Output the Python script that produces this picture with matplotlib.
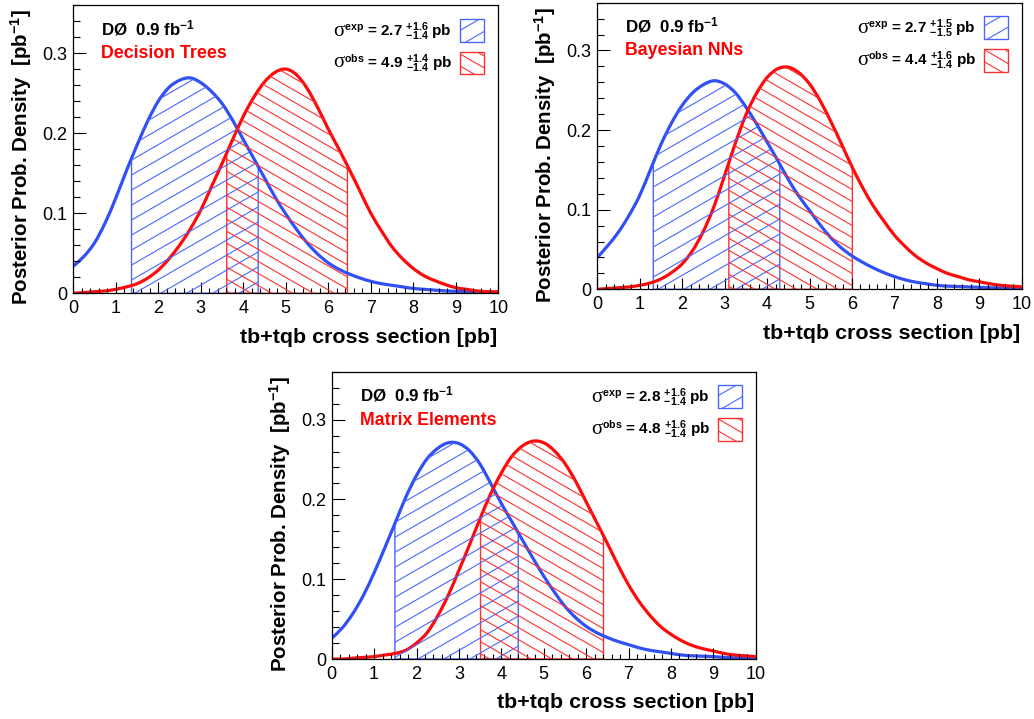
import numpy as np
import matplotlib
matplotlib.use('Agg')
import matplotlib.pyplot as plt
from matplotlib.patches import PathPatch, Rectangle
from matplotlib.path import Path
from matplotlib.collections import LineCollection
from matplotlib.ticker import MultipleLocator, FixedLocator, FixedFormatter

plt.rcParams['font.family'] = ['Liberation Sans', 'DejaVu Sans']
plt.rcParams['mathtext.default'] = 'regular'

# cross section grid [pb]
xs = np.arange(0, 10.001, 0.25)

# posterior densities (one value per 0.25 pb)
dt_exp = [0.034, 0.046, 0.063, 0.088, 0.119, 0.153, 0.185, 0.215, 0.240, 0.257,
          0.266, 0.269, 0.263, 0.252, 0.237, 0.216, 0.192, 0.168, 0.144, 0.120,
          0.099, 0.080, 0.063, 0.049, 0.038, 0.030, 0.024, 0.019, 0.015, 0.012,
          0.010, 0.008, 0.006, 0.005, 0.004, 0.003, 0.0025, 0.002, 0.0015, 0.001, 0.001]
dt_obs = [0.000, 0.001, 0.002, 0.003, 0.005, 0.008, 0.012, 0.019, 0.029, 0.043,
          0.060, 0.080, 0.104, 0.133, 0.162, 0.192, 0.221, 0.245, 0.264, 0.276,
          0.280, 0.273, 0.256, 0.232, 0.205, 0.180, 0.154, 0.127, 0.100, 0.078,
          0.058, 0.043, 0.031, 0.022, 0.016, 0.011, 0.007, 0.005, 0.003, 0.002, 0.002]
bnn_exp = [0.040, 0.055, 0.072, 0.093, 0.118, 0.150, 0.182, 0.209, 0.231, 0.247,
           0.257, 0.262, 0.258, 0.247, 0.229, 0.208, 0.185, 0.162, 0.138, 0.117,
           0.099, 0.081, 0.065, 0.052, 0.042, 0.034, 0.027, 0.021, 0.016, 0.012,
           0.009, 0.007, 0.005, 0.004, 0.0035, 0.003, 0.0025, 0.002, 0.0015, 0.001, 0.001]
bnn_obs = [0.000, 0.001, 0.002, 0.003, 0.005, 0.008, 0.013, 0.021, 0.032, 0.049,
           0.073, 0.104, 0.143, 0.183, 0.219, 0.246, 0.266, 0.277, 0.279, 0.272,
           0.258, 0.237, 0.211, 0.183, 0.154, 0.128, 0.105, 0.086, 0.068, 0.054,
           0.042, 0.033, 0.026, 0.020, 0.016, 0.012, 0.0095, 0.007, 0.005, 0.004, 0.003]
me_exp = [0.026, 0.039, 0.057, 0.080, 0.108, 0.139, 0.171, 0.203, 0.230, 0.251,
          0.264, 0.271, 0.270, 0.261, 0.244, 0.220, 0.195, 0.172, 0.149, 0.126,
          0.104, 0.084, 0.066, 0.052, 0.041, 0.033, 0.027, 0.022, 0.018, 0.014,
          0.011, 0.009, 0.007, 0.005, 0.004, 0.0035, 0.003, 0.002, 0.0015, 0.001, 0.001]
me_obs = [0.000, 0.000, 0.001, 0.002, 0.003, 0.005, 0.007, 0.011, 0.020, 0.033,
          0.054, 0.080, 0.111, 0.143, 0.176, 0.207, 0.233, 0.254, 0.267, 0.273,
          0.271, 0.261, 0.245, 0.223, 0.197, 0.171, 0.145, 0.118, 0.093, 0.072,
          0.055, 0.041, 0.031, 0.023, 0.017, 0.013, 0.010, 0.007, 0.005, 0.004, 0.003]

# hatched 68% intervals [pb]
dt_exp_band = (1.37, 4.35)
dt_obs_band = (3.61, 6.45)
bnn_exp_band = (1.32, 4.30)
bnn_obs_band = (3.10, 6.01)
me_exp_band = (1.49, 4.40)
me_obs_band = (3.51, 6.41)

methods = ['Decision Trees', 'Bayesian NNs', 'Matrix Elements']
exp_results = [('2.7', '+1.6', '-1.4'), ('2.7', '+1.5', '-1.5'), ('2.8', '+1.6', '-1.4')]
obs_results = [('4.9', '+1.4', '-1.4'), ('4.4', '+1.6', '-1.4'), ('4.8', '+1.6', '-1.4')]

ytick_vals = [0, 0.1, 0.2, 0.3]
ytick_labels = ['0', '0.1', '0.2', '0.3']
xtick_vals = list(range(0, 11))

BLUE = '#3050f5'
RED = '#ff0a0a'
BLUE_H = '#4a66ff'
RED_H = '#ff3030'

W_PX, H_PX = 1034, 719
# axes boxes in pixels: left, top, right, bottom
boxes = [(73.3, 5.0, 498.3, 293.3),
         (597.3, 2.7, 1021.7, 289.3),
         (331.7, 371.7, 755.7, 659.0)]


def smooth_segments(px, py):
    # cubic Bezier pieces (Catmull-Rom) through the given points
    pts = np.column_stack([px, py])
    n = len(pts)
    verts, codes = [], []
    for k in range(n - 1):
        p0 = pts[max(k - 1, 0)]
        p1, p2 = pts[k], pts[k + 1]
        p3 = pts[min(k + 2, n - 1)]
        verts += [p1 + (p2 - p0) / 6, p2 - (p3 - p1) / 6, p2]
        codes += [Path.CURVE4] * 3
    return verts, codes


def draw_curve(ax, y, color):
    verts, codes = smooth_segments(xs, np.asarray(y))
    path = Path([(xs[0], y[0])] + verts, [Path.MOVETO] + codes)
    ax.add_patch(PathPatch(path, facecolor='none', edgecolor=color, lw=2.3,
                           capstyle='butt', joinstyle='round'))


def add_hatch(ax, patch, color, sign, step_px, lw=0.8):
    fig = ax.figure
    pos = ax.get_position()
    w = pos.width * fig.get_figwidth() * fig.dpi
    h = pos.height * fig.get_figheight() * fig.dpi
    m = sign * np.tan(np.radians(30))
    span = abs(m) * w
    segs = []
    for c in np.arange(-span - step_px, h + span + step_px, step_px):
        segs.append([(0, c / h), (1, (c + m * w) / h)])
    lc = LineCollection(segs, colors=color, linewidths=lw, transform=ax.transAxes)
    ax.add_collection(lc, autolim=False)
    lc.set_clip_path(patch)


def band(ax, y, lims, hcolor, sign, step):
    y = np.asarray(y)
    lo, hi = lims
    inside = (xs > lo) & (xs < hi)
    tx = np.concatenate([[lo], xs[inside], [hi]])
    ty = np.concatenate([[np.interp(lo, xs, y)], y[inside], [np.interp(hi, xs, y)]])
    verts, codes = smooth_segments(tx, ty)
    path = Path([(lo, 0), (lo, ty[0])] + verts + [(hi, 0), (lo, 0)],
                [Path.MOVETO, Path.LINETO] + codes + [Path.LINETO, Path.CLOSEPOLY])
    patch = PathPatch(path, facecolor='none', edgecolor=hcolor, lw=1.0)
    ax.add_patch(patch)
    add_hatch(ax, patch, hcolor, sign, step)


fig = plt.figure(figsize=(W_PX / 100, H_PX / 100), dpi=100)

panels = [(dt_exp, dt_obs, dt_exp_band, dt_obs_band),
          (bnn_exp, bnn_obs, bnn_exp_band, bnn_obs_band),
          (me_exp, me_obs, me_exp_band, me_obs_band)]

for i, (yexp, yobs, bexp, bobs) in enumerate(panels):
    l, t, r, b = boxes[i]
    ax = fig.add_axes([l / W_PX, 1 - b / H_PX, (r - l) / W_PX, (b - t) / H_PX])
    ax.set_xlim(0, 10)
    ax.set_ylim(0, 0.36)

    band(ax, yexp, bexp, BLUE_H, 1, 15)
    band(ax, yobs, bobs, RED_H, -1, 12)
    draw_curve(ax, yexp, BLUE)
    draw_curve(ax, yobs, RED)

    # ROOT-like axes
    ax.xaxis.set_major_locator(FixedLocator(xtick_vals))
    ax.xaxis.set_minor_locator(MultipleLocator(0.2))
    ax.yaxis.set_major_locator(FixedLocator(ytick_vals))
    ax.yaxis.set_major_formatter(FixedFormatter(ytick_labels))
    ax.yaxis.set_minor_locator(MultipleLocator(0.02))
    ax.tick_params(axis='both', which='both', direction='in', width=0.8, colors='black',
                   labelsize=13, top=False, right=False)
    ax.tick_params(axis='x', which='major', length=8, pad=5)
    ax.tick_params(axis='x', which='minor', length=3.7)
    ax.tick_params(axis='y', which='major', length=9.6, pad=4)
    ax.tick_params(axis='y', which='minor', length=4.8)
    for s in ax.spines.values():
        s.set_linewidth(0.9)

    ax.text(0.997, -0.172, 'tb+tqb cross section [pb]', transform=ax.transAxes,
            ha='right', va='baseline', fontsize=15.4, fontweight='bold')
    ax.text(-0.122, 0.985, r'Posterior Prob. Density  [pb$^{-1}$]', transform=ax.transAxes,
            ha='center', va='top', rotation=90, fontsize=14.8, fontweight='bold')

    ax.text(0.066, 0.897, r'DØ  0.9 fb$^{-1}$', transform=ax.transAxes,
            ha='left', va='baseline', fontsize=12.2, fontweight='bold')
    ax.text(0.066, 0.816, methods[i], transform=ax.transAxes, color='red',
            ha='left', va='baseline', fontsize=12.8, fontweight='bold')

    # legend entries
    for tag, res, hcol, sign, step, ybase, ybox in [
            ('exp', exp_results[i], BLUE_H, 1, 15, 0.894, 0.873),
            ('obs', obs_results[i], RED_H, -1, 12, 0.784, 0.759)]:
        c, up, dn = res
        ax.text(0.638, ybase, 'σ', transform=ax.transAxes, ha='right', va='baseline',
                fontsize=15, family=['Liberation Serif', 'DejaVu Serif'])
        ax.text(0.638, ybase, r'${}^{%s}$ = %s ${}^{%s}_{%s}$ pb' % (tag, c, up, dn),
                transform=ax.transAxes, ha='left', va='baseline', fontsize=11,
                fontweight='bold')
        rect = Rectangle((0.911, ybox), 0.056, 0.079, transform=ax.transAxes,
                         facecolor='none', edgecolor=hcol, lw=1.0)
        ax.add_patch(rect)
        add_hatch(ax, rect, hcol, sign, step)

fig.savefig('out.png', dpi=100)
